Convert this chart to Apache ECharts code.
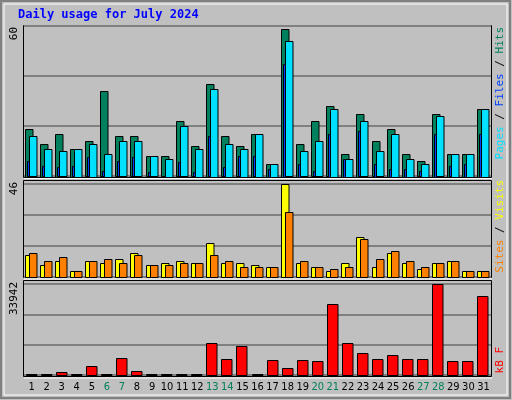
<!DOCTYPE html>
<html><head><meta charset="utf-8">
<script src="https://cdn.jsdelivr.net/npm/echarts@6/dist/echarts.min.js"></script>
<style>html,body{margin:0;padding:0;background:#c0c0c0}#c{width:512px;height:400px}</style>
</head><body><div id="c"></div>
<script>
var days = ['1','2','3','4','5','6','7','8','9','10','11','12','13','14','15','16','17','18','19','20','21','22','23','24','25','26','27','28','29','30','31'];
var weekend = ['6','7','13','14','20','21','27','28'];
var hits  = [19,13,17,11,14,34,16,16,8,8,22,12,37,16,12,17,5,59,13,22,28,9,25,14,19,9,6,25,9,9,27];
var files = [16,11,10,11,13,9,14,14,8,7,20,11,35,13,11,17,5,54,10,14,27,7,22,10,17,7,5,24,9,9,27];
var pages = [6,4,3.5,4,7.5,2,6,7.5,1.5,0,5.5,1.5,16,3.5,8,8,3,45,5,2,17,7,18,5,3,3,2,17,4,5,17];
var sites = [11,6,8,3,8,7,9,12,6,7,8,7,17,7,7,6,5,46,7,5,3,7,20,5,12,7,4,7,8,3,3];
var visits= [12,8,10,3,8,9,7,11,6,6,7,7,11,8,5,5,5,32,8,5,4,5,19,9,13,8,5,7,8,3,3];
var kbytes= [300,300,1000,300,3200,300,6400,1400,300,300,300,300,11800,6100,10700,300,5500,2700,5500,5100,26500,12100,8100,5800,7300,6100,6100,33942,5100,5100,29600];
var maxHits = 60, maxSites = 46, maxKB = 33942;

function bar(data, color, dx0, dx1, gi) {
  return {type:'custom', xAxisIndex:gi, yAxisIndex:gi, data:data.map(function(v,i){return [i,v];}),
    renderItem:function(p, api){
      var top = api.coord([api.value(0), api.value(1)]);
      var base = api.coord([api.value(0), 0]);
      var h = base[1]-top[1];
      if (h < 0.5) return null;
      return {type:'rect', shape:{x:Math.round(top[0]+dx0)+0.5, y:Math.round(top[1])+0.5, width:dx1-dx0, height:Math.round(h)},
        style:{fill:color, stroke:'#000', lineWidth:1}};
    }};
}
function xa(gi, show){
  return {type:'category', gridIndex:gi, data:days, boundaryGap:true,
    axisLine:{show:false}, axisTick:{show:false}, splitLine:{show:false},
    axisLabel:{show:show, interval:0, margin:7, fontFamily:'DejaVu Sans Condensed, DejaVu Sans', fontSize:11,
      color:function(v){return weekend.indexOf(v)>=0?'#00805c':'#000';}}};
}
function ya(gi, max){
  return {type:'value', gridIndex:gi, min:0, max:max, interval:max/3,
    axisLine:{show:false}, axisTick:{show:false}, axisLabel:{show:false},
    splitLine:{show:true, lineStyle:{color:'#808080', width:2}}};
}
function vt(txt, x, y, color, size){
  return {type:'text', x:x, y:y, rotation:Math.PI/2,
    style:{text:txt, fill:color, font:(size||12)+'px "DejaVu Sans Mono"', textAlign:'right', textVerticalAlign:'top'}};
}
var F = '11px "DejaVu Sans Mono"';
var chart = echarts.init(document.getElementById('c'));
chart.setOption({
  backgroundColor:'#c0c0c0',
  animation:false,
  grid:[{left:24,right:21,top:26,height:150},{left:24,right:21,top:184,height:93},{left:24,right:21,top:284,height:91}],
  xAxis:[xa(0,false),xa(1,false),xa(2,true)],
  yAxis:[ya(0,maxHits),ya(1,maxSites),ya(2,maxKB)],
  graphic:[
    {type:'rect', shape:{x:1,y:1,width:509,height:397}, style:{fill:'none', stroke:'#808080', lineWidth:2}, z:-10},
    {type:'rect', shape:{x:4,y:4,width:503,height:391}, style:{fill:'none', stroke:'#ffffff', lineWidth:1}, z:-10},
    {type:'rect', shape:{x:23.5,y:25.5,width:468,height:152}, style:{fill:'none', stroke:'#000', lineWidth:1}, z:-5},
    {type:'rect', shape:{x:23.5,y:180.5,width:468,height:97}, style:{fill:'none', stroke:'#000', lineWidth:1}, z:-5},
    {type:'rect', shape:{x:23.5,y:280.5,width:468,height:96}, style:{fill:'none', stroke:'#000', lineWidth:1}, z:-5},
    {type:'line', shape:{x1:24,y1:178.5,x2:492,y2:178.5}, style:{stroke:'#fff', lineWidth:1}},
    {type:'line', shape:{x1:24,y1:279,x2:492,y2:279}, style:{stroke:'#fff', lineWidth:1}},
    {type:'line', shape:{x1:24,y1:378,x2:492,y2:378}, style:{stroke:'#fff', lineWidth:1}},
    {type:'text', x:18, y:9, style:{text:'Daily usage for July 2024', fill:'#0000ff', font:'bold 12px "DejaVu Sans Mono"'}},
    vt(String(maxHits), 9, 27, '#000', 11),
    vt(String(maxSites), 9, 182, '#000', 11),
    vt(String(maxKB), 9, 282, '#000', 11),
    {type:'text', x:495, y:27, rotation:Math.PI/2,
      style:{text:'{p|Pages}{s| / }{f|Files}{s| / }{h|Hits}', textAlign:'right', textVerticalAlign:'top', font:F,
        rich:{p:{fill:'#00e0ff',font:F},s:{fill:'#000',font:F},f:{fill:'#0040ff',font:F},h:{fill:'#00805c',font:F}}}},
    {type:'text', x:495, y:180, rotation:Math.PI/2,
      style:{text:'{a|Sites}{s| / }{b|Visits}', textAlign:'right', textVerticalAlign:'top', font:F,
        rich:{a:{fill:'#ff8000',font:F},s:{fill:'#000',font:F},b:{fill:'#ffff00',font:F}}}},
    {type:'text', x:495, y:347, rotation:Math.PI/2,
      style:{text:'kB F', fill:'#ff0000', textAlign:'right', textVerticalAlign:'top', font:F}}
  ],
  series:[
    bar(hits,'#00805c',-6.5,1,0),
    bar(files,'#00e0ff',-2.5,5,0),
    bar(pages,'#0040ff',-4.5,-2.5,0),
    bar(sites,'#ffff00',-6.5,1,1),
    bar(visits,'#ff8000',-2.5,5,1),
    bar(kbytes,'#ff0000',-6,4.5,2)
  ]
});
</script></body></html>
